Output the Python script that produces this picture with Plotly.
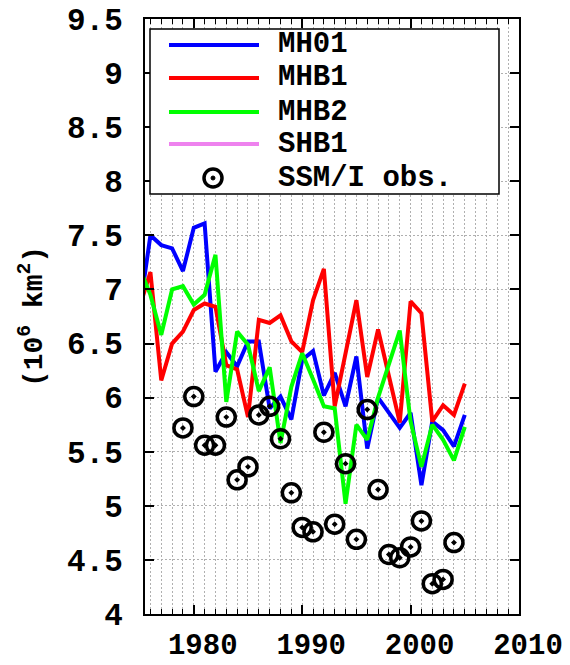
import plotly.graph_objects as go

# ---------------- data ----------------
years = [1975, 1976, 1977, 1978, 1979, 1980, 1981, 1982, 1983, 1984,
         1985, 1986, 1987, 1988, 1989, 1990, 1991, 1992, 1993, 1994,
         1995, 1996, 1997, 1998, 1999, 2000, 2001, 2002, 2003, 2004, 2005]

mh01 = [6.80, 7.50, 7.41, 7.38, 7.17, 7.57, 7.61, 6.24, 6.42, 6.29,
        6.52, 6.52, 5.90, 6.01, 5.80, 6.35, 6.43, 6.02, 6.23, 5.92,
        6.38, 5.53, 6.00, 5.86, 5.72, 5.86, 5.19, 5.78, 5.70, 5.55, 5.84]

mhb1 = [6.84, 7.16, 6.16, 6.50, 6.61, 6.81, 6.87, 6.84, 6.30, 6.26,
        5.82, 6.72, 6.69, 6.76, 6.52, 6.42, 6.90, 7.19, 5.92, 6.40,
        6.90, 6.19, 6.63, 6.20, 5.77, 6.89, 6.78, 5.78, 5.93, 5.84, 6.13]

mhb2 = [7.20, 6.95, 6.58, 7.00, 7.03, 6.86, 6.95, 7.32, 5.96, 6.61,
        6.49, 6.06, 6.28, 5.58, 6.10, 6.41, 6.17, 5.92, 5.90, 5.02,
        5.75, 5.61, 6.00, 6.30, 6.62, 5.78, 5.36, 5.75, 5.61, 5.42, 5.73]

obs_years = [1979, 1980, 1981, 1982, 1983, 1984, 1985, 1986, 1987, 1988,
             1989, 1990, 1991, 1992, 1993, 1994, 1995, 1996, 1997, 1998,
             1999, 2000, 2001, 2002, 2003, 2004]
ssmi_obs = [5.72, 6.01, 5.56, 5.56, 5.82, 5.24, 5.36, 5.84, 5.92, 5.62,
            5.12, 4.80, 4.76, 5.68, 4.83, 5.39, 4.69, 5.89, 5.15, 4.55,
            4.52, 4.62, 4.86, 4.28, 4.32, 4.66]

x_tick_vals = [1980, 1990, 2000, 2010]
x_tick_text = ["1980", "1990", "2000", "2010"]
y_tick_vals = [4, 4.5, 5, 5.5, 6, 6.5, 7, 7.5, 8, 8.5, 9, 9.5]
y_tick_text = ["4", "4.5", "5", "5.5", "6", "6.5", "7", "7.5", "8", "8.5", "9", "9.5"]

legend_names = ["MH01", "MHB1", "MHB2", "SHB1", "SSM/I obs."]
series_colors = ["#0000ff", "#ff0000", "#00ff00", "#ee82ee"]

# ---------------- style ----------------
FONT = "Liberation Mono"
W, H = 570, 665
PL, PR, PT, PB = 145, 519, 19, 614
GRID = "#b0b0b0"


def px_x(p):
    return (p - PL) / (PR - PL)


def px_y(p):
    return (PB - p) / (PB - PT)


fig = go.Figure()
for vals, col in zip([mh01, mhb1, mhb2], series_colors[:3]):
    fig.add_trace(go.Scatter(x=years, y=vals, mode="lines",
                             line=dict(color=col, width=4),
                             showlegend=False, hoverinfo="skip"))

fig.add_trace(go.Scatter(x=obs_years, y=ssmi_obs, mode="markers",
                         marker=dict(symbol="circle-open-dot", size=18,
                                     color="black",
                                     line=dict(width=3.5, color="black")),
                         showlegend=False, hoverinfo="skip"))

fig.update_layout(
    width=W, height=H,
    margin=dict(l=PL, r=W - PR, t=PT, b=H - PB, autoexpand=False),
    plot_bgcolor="white", paper_bgcolor="white",
    showlegend=False,
    font=dict(family=FONT, color="black"),
)

fig.update_xaxes(
    range=[1975.5, 2010], tickmode="array",
    tickvals=x_tick_vals, ticktext=x_tick_text,
    ticks="inside", ticklen=9, tickwidth=1.5, tickcolor="black",
    showline=True, linecolor="black", linewidth=2, mirror="allticks",
    showgrid=True, gridcolor=GRID, gridwidth=1, griddash="2px,2px",
    zeroline=False, automargin=False,
    minor=dict(dtick=1, tick0=1975, ticks="inside", ticklen=5,
               tickwidth=1.2, tickcolor="black",
               showgrid=True, gridcolor=GRID, gridwidth=1, griddash="2px,2px"),
    tickfont=dict(family=FONT, size=29, weight="bold", color="black"),
    ticklabelshift=9, ticklabelstandoff=3,
)

fig.update_yaxes(
    range=[4, 9.5], tickmode="array",
    tickvals=y_tick_vals, ticktext=y_tick_text,
    ticks="inside", ticklen=9, tickwidth=1.5, tickcolor="black",
    showline=True, linecolor="black", linewidth=2, mirror="allticks",
    showgrid=True, gridcolor=GRID, gridwidth=1, griddash="2px,2px",
    zeroline=False,
    tickfont=dict(family=FONT, size=31, weight="bold", color="black"),
    ticklabelstandoff=14,
    automargin=False,
    title=dict(text="(10<sup>6</sup> km<sup>2</sup>)",
               font=dict(family=FONT, size=28, weight="bold", color="black"),
               standoff=16),
)

# ---------------- legend (drawn manually) ----------------
shapes = [dict(type="rect", xref="paper", yref="paper",
               x0=px_x(150), x1=px_x(499), y0=px_y(194), y1=px_y(29),
               line=dict(color="black", width=1.5), fillcolor="white",
               layer="above")]
annotations = []
row_y = [45, 78, 112, 144, 178]
for i, name in enumerate(legend_names):
    if i < 4:
        shapes.append(dict(type="line", xref="paper", yref="paper",
                           x0=px_x(169), x1=px_x(259),
                           y0=px_y(row_y[i]), y1=px_y(row_y[i]),
                           line=dict(color=series_colors[i], width=4),
                           layer="above"))
    else:
        shapes.append(dict(type="circle", xref="paper", yref="paper",
                           xsizemode="pixel", ysizemode="pixel",
                           xanchor=px_x(213), yanchor=px_y(row_y[i]),
                           x0=-9, x1=9, y0=-9, y1=9,
                           line=dict(color="black", width=3.5),
                           layer="above"))
        shapes.append(dict(type="circle", xref="paper", yref="paper",
                           xsizemode="pixel", ysizemode="pixel",
                           xanchor=px_x(213), yanchor=px_y(row_y[i]),
                           x0=-2, x1=2, y0=-2, y1=2,
                           line=dict(color="black", width=1),
                           fillcolor="black", layer="above"))
    annotations.append(dict(xref="paper", yref="paper",
                            x=px_x(276), y=px_y(row_y[i]),
                            xanchor="left", yanchor="middle",
                            text=name, showarrow=False,
                            font=dict(family=FONT, size=29, weight="bold",
                                      color="black")))

fig.update_layout(shapes=shapes, annotations=annotations)

fig.write_html("out.html")
